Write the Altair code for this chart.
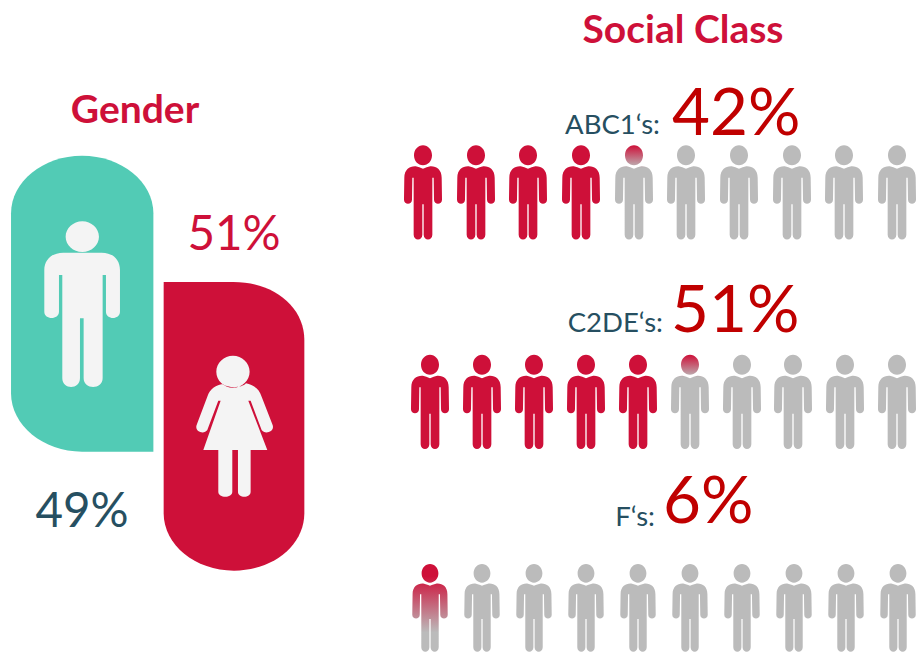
import re
import altair as alt
import pandas as pd

RED = "#CE1039"
TEAL = "#52CBB5"
GRAY = "#BBBBBB"
PALE = "#F4F4F4"
NAVY = "#264F61"
DEEP = "#C00000"
FONT = "Lato"


def norm(path, cx, cy, half):
    """Bring a path drawn in its own units into Vega's -1..1 symbol box."""
    nums = iter(range(10 ** 6))

    def conv(m):
        v = float(m.group())
        c = cx if next(nums) % 2 == 0 else cy
        return f"{(v - c) / half:.4f}"

    return re.sub(r"-?\d+(\.\d+)?", conv, path)


PERSON = norm(
    "M 43 45 C 43 28 55 15 70 15 C 85 15 97 28 97 45 C 97 62 85 75 70 75 C 55 75 43 62 43 45 Z "
    "M 70 85 C 62 83 56 79 48 78 C 30 77 14 88 14 112 L 13 178 C 13 194 37 194 37 178 L 38 112 L 42 112 "
    "L 42 283 C 42 302 68 302 68 283 L 68 192 L 72 192 L 72 283 C 72 302 98 302 98 283 L 98 112 L 102 112 "
    "L 103 178 C 103 194 127 194 127 178 L 126 112 C 126 88 110 77 92 78 C 84 79 78 83 70 85 Z",
    70, 156.5, 141.5,
)
MAN = norm(
    "M 197 260 C 197 235 220 214 247 214 C 274 214 297 235 297 260 C 297 285 274 306 247 306 C 220 306 197 285 197 260 Z "
    "M 190 308 L 305 308 C 340 308 360 330 360 360 L 360 485 C 360 510 318 510 318 485 L 318 375 L 308 375 "
    "L 308 685 C 308 720 251 720 251 685 L 251 505 L 240 505 L 240 685 C 240 720 187 720 187 685 L 187 375 "
    "L 177 375 L 177 485 C 177 510 133 510 133 485 L 133 360 C 133 330 155 308 190 308 Z",
    247, 463, 249,
)
WOMAN = norm(
    "M 649 665 C 649 638 672 617 699 617 C 726 617 749 638 749 665 C 749 692 726 713 699 713 C 672 713 649 692 649 665 Z "
    "M 668 702 C 650 705 630 715 622 740 L 590 825 C 583 845 612 855 622 840 L 655 752 L 662 752 L 610 900 L 655 900 "
    "L 655 1025 C 655 1045 697 1045 697 1025 L 697 900 L 714 900 L 714 1025 C 714 1045 752 1045 752 1025 L 752 900 "
    "L 802 900 L 745 752 L 752 752 L 785 840 C 795 855 825 845 818 825 L 785 740 C 778 715 760 705 738 700 "
    "C 725 715 685 715 668 702 Z",
    703, 828.5, 211.5,
)
PANEL_TEAL = norm(
    "M 33 190 C 33 95 129 17 246 17 C 364 17 460 95 460 190 L 460 905 L 246 905 C 129 905 33 826 33 730 Z",
    246.5, 461, 444,
)
PANEL_RED = norm(
    "M 491 396 L 700 396 C 820 396 913 470 913 570 L 913 1090 C 913 1185 820 1262 702 1262 C 585 1262 491 1185 491 1090 Z",
    702, 829, 433,
)

# Social-class pictograms
row1_x = [423, 476, 528, 581, 634, 686, 739, 792, 844, 897]
row2_x = [430, 482, 534, 586, 638, 690, 742, 793, 845, 897]
row3_x = [430, 482, 534, 586, 638, 690, 742, 794, 846, 898]
row_y = [192.5, 402, 608]
row_h = [94.4, 94.4, 88]
row_state = [
    ["full"] * 4 + ["head"] + ["empty"] * 5,
    ["full"] * 5 + ["head"] + ["empty"] * 4,
    ["fade"] + ["empty"] * 9,
]

rows = []
for xs, y, h, states in zip([row1_x, row2_x, row3_x], row_y, row_h, row_state):
    for x, s in zip(xs, states):
        rows.append({"x": x, "y": y, "state": s, "area": h * h})
people = pd.DataFrame(rows)

# Gender panels
panel_x = [82.2, 234]
panel_y = [303.7, 426.3]
icon_x = [82.3, 234.3]
icon_y = [304.3, 426.2]

# Text
labels = ["Gender", "Social Class"]
labels_x = [135, 683]
labels_y = [122.5, 43]

big = ["51%", "49%"]
big_x = [234, 82]
big_y = [250, 527]
big_color = [RED, NAVY]

pct = ["42%", "51%", "6%"]
pct_x = [672, 671, 663]
pct_y = [135, 332, 523]

names = ["ABC1\u2018s:", "C2DE\u2018s:", "F\u2018s:"]
names_x = [660, 663, 655]
names_y = [134, 332, 526]

X = alt.X("x:Q", scale=alt.Scale(domain=[8, 916], nice=False, zero=False), axis=None)
Y = alt.Y("y:Q", scale=alt.Scale(domain=[652, 8], nice=False, zero=False), axis=None)


def symbol(df, shape, size, color):
    return (
        alt.Chart(df)
        .mark_point(shape=shape, size=size, filled=True, fill=color, opacity=1, strokeWidth=0)
        .encode(x=X, y=Y)
    )


def person_layer(df, color):
    return (
        alt.Chart(df)
        .mark_point(shape=PERSON, filled=True, fill=color, opacity=1, strokeWidth=0)
        .encode(x=X, y=Y, size=alt.Size("area:Q", scale=None))
    )


def grad(stops):
    return alt.Gradient(
        gradient="linear", x1=0, x2=0, y1=0, y2=1,
        stops=[alt.GradientStop(offset=o, color=c) for o, c in stops],
    )


def state(s):
    return people[people.state == s]


layers = [
    symbol(pd.DataFrame({"x": [panel_x[0]], "y": [panel_y[0]]}), PANEL_TEAL, 296 ** 2, TEAL),
    symbol(pd.DataFrame({"x": [panel_x[1]], "y": [panel_y[1]]}), PANEL_RED, 288.7 ** 2, RED),
    symbol(pd.DataFrame({"x": [icon_x[0]], "y": [icon_y[0]]}), MAN, 166 ** 2, PALE),
    symbol(pd.DataFrame({"x": [icon_x[1]], "y": [icon_y[1]]}), WOMAN, 141 ** 2, PALE),
    person_layer(state("full"), RED),
    person_layer(state("empty"), GRAY),
    person_layer(state("head"), grad([(0, RED), (0.24, GRAY), (1, GRAY)])),
    person_layer(state("fade"), grad([(0, RED), (0.14, RED), (0.78, GRAY), (1, GRAY)])),
    alt.Chart(pd.DataFrame({"x": labels_x, "y": labels_y, "t": labels}))
    .mark_text(font=FONT, fontSize=39, fontWeight="bold", color=RED, align="center", baseline="alphabetic")
    .encode(x=X, y=Y, text="t:N"),
    alt.Chart(pd.DataFrame({"x": big_x, "y": big_y, "t": big, "c": big_color}))
    .mark_text(font=FONT, fontSize=47.5, align="center", baseline="alphabetic")
    .encode(x=X, y=Y, text="t:N", color=alt.Color("c:N", scale=None)),
    alt.Chart(pd.DataFrame({"x": pct_x, "y": pct_y, "t": pct}))
    .mark_text(font=FONT, fontSize=65.5, color=DEEP, align="left", baseline="alphabetic")
    .encode(x=X, y=Y, text="t:N"),
    alt.Chart(pd.DataFrame({"x": names_x, "y": names_y, "t": names}))
    .mark_text(font=FONT, fontSize=27.5, color=NAVY, align="right", baseline="alphabetic")
    .encode(x=X, y=Y, text="t:N"),
]

chart = (
    alt.layer(*layers)
    .properties(width=908, height=644, padding=0, autosize=alt.AutoSizeParams(type="none"))
    .configure_view(stroke=None)
)

chart.save("out.html", embed_options={"renderer": "svg", "actions": False})
